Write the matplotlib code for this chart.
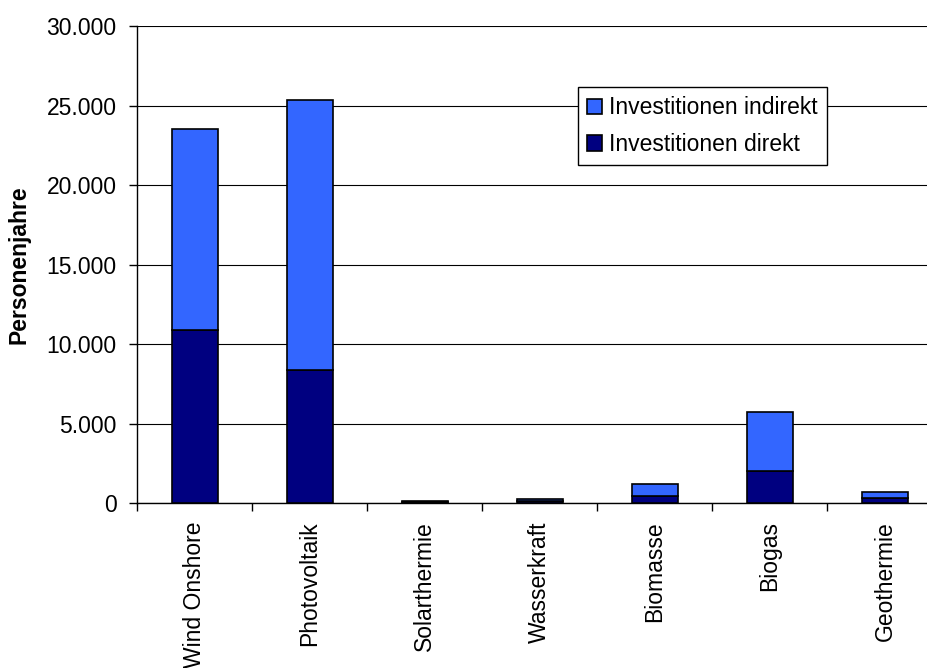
import numpy as np
import matplotlib.pyplot as plt
from matplotlib.ticker import FuncFormatter, FixedLocator

plt.rcParams['font.family'] = ['Liberation Sans', 'DejaVu Sans']

kategorien = ['Wind Onshore', 'Photovoltaik', 'Solarthermie', 'Wasserkraft',
              'Biomasse', 'Biogas', 'Geothermie']
direkt = [10880, 8370, 60, 130, 460, 2030, 300]
indirekt = [12640, 16980, 85, 140, 735, 3710, 410]

fs = 16.5
fig = plt.figure(figsize=(9.28, 6.68), dpi=100)
ax = fig.add_axes([0.148, 0.2466, 0.8675, 0.7145])

x = np.arange(len(kategorien))
ax.bar(x, direkt, width=0.4, color='#000080', edgecolor='black',
       linewidth=1.2, label='Investitionen direkt', zorder=3)
ax.bar(x, indirekt, width=0.4, bottom=direkt, color='#3366FF',
       edgecolor='black', linewidth=1.2, label='Investitionen indirekt', zorder=3)

ax.set_xlim(-0.5, len(kategorien) - 0.5)
ax.set_ylim(0, 30000)
ax.set_yticks(np.arange(0, 30001, 5000))
ax.yaxis.set_major_formatter(FuncFormatter(lambda v, p: f"{int(v):,}".replace(',', '.')))
ax.yaxis.grid(True, color='black', linewidth=0.8, zorder=0)

ax.set_xticks(x)
ax.set_xticklabels(kategorien, rotation=90, fontsize=fs)
ax.xaxis.set_minor_locator(FixedLocator(np.arange(-0.5, len(kategorien), 1.0)))
ax.tick_params(axis='x', which='major', length=0, pad=13)
ax.tick_params(axis='x', which='minor', length=6, width=1, direction='out')
ax.tick_params(axis='y', length=6, width=1, pad=9, labelsize=fs)

for s in ['top', 'right']:
    ax.spines[s].set_visible(False)
ax.spines['left'].set_linewidth(1)
ax.spines['bottom'].set_linewidth(1)

# Beschriftung der y-Achse (fett, links)
ax.set_ylabel('Personenjahre', fontsize=fs, fontweight='bold')
ax.yaxis.set_label_coords(-0.1333, 0.5)

h, l = ax.get_legend_handles_labels()
leg = ax.legend(h[::-1], l[::-1], loc='upper left', bbox_to_anchor=(0.5475, 0.872),
                borderaxespad=0, fontsize=fs, fancybox=False, framealpha=1,
                edgecolor='black', handlelength=0.65, handleheight=0.65,
                handletextpad=0.3, labelspacing=0.6, borderpad=0.4)
leg.get_frame().set_linewidth(1)
leg.set_zorder(5)

fig.savefig('out.png', dpi=100)
